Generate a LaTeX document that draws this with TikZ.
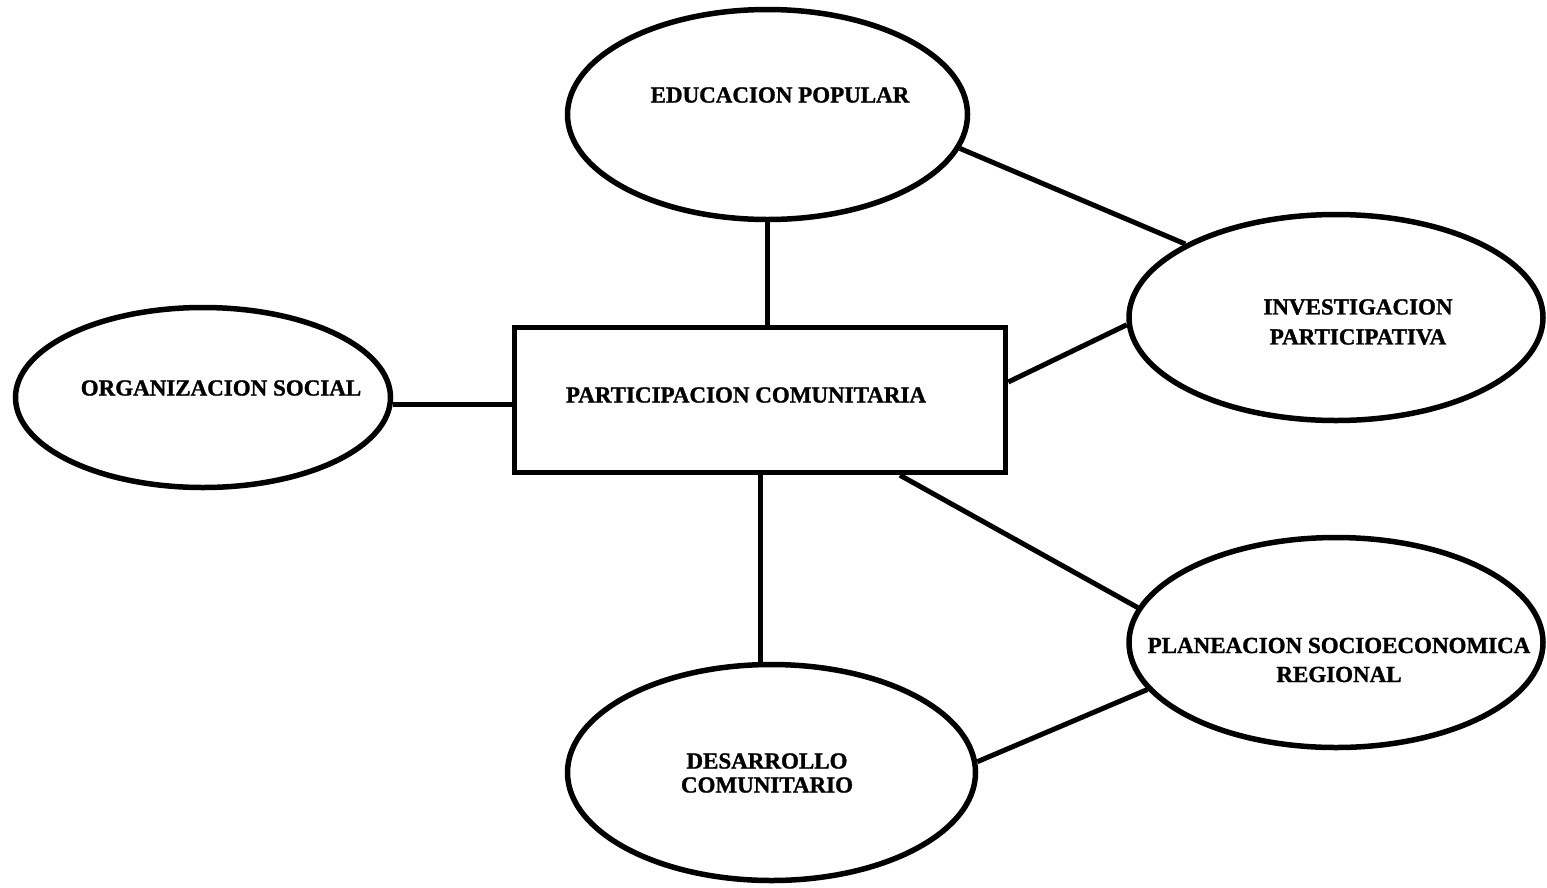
\documentclass[tikz,border=0pt]{standalone}
\usepackage{fontspec}
\setmainfont{Liberation Serif}[BoldFeatures={FakeBold=1.3}]
\usetikzlibrary{shapes.geometric}
\begin{document}
\begin{tikzpicture}[x=1pt,y=-1pt,
  bubble/.style={draw, ellipse, line width=5.5pt, inner sep=0pt},
  box/.style={draw, rectangle, line width=5.5pt, inner sep=0pt},
  lbl/.style={font=\fontsize{23}{30}\selectfont\bfseries, align=center, inner sep=0pt},
  link/.style={line width=5pt}]
\useasboundingbox (0,0) rectangle (1547,887);

% shapes
\node[box, minimum width=491pt, minimum height=145pt] (part) at (760,400) {};
\node[bubble, minimum width=400pt, minimum height=210pt] (edu) at (767.5,114.5) {};
\node[bubble, minimum width=414pt, minimum height=206pt] (inv) at (1336,317.5) {};
\node[bubble, minimum width=375pt, minimum height=180pt] (org) at (203,397.5) {};
\node[bubble, minimum width=414pt, minimum height=210pt] (plan) at (1336,642.5) {};
\node[bubble, minimum width=408pt, minimum height=216pt] (des) at (771.5,772.5) {};

% labels
\node[lbl] (part-t) at (746,395) {PARTICIPACION COMUNITARIA};
\node[lbl] (edu-t) at (780,95) {EDUCACION POPULAR};
\node[lbl] (inv-t) at (1358,322) {INVESTIGACION\\PARTICIPATIVA};
\node[lbl] (org-t) at (221,388) {ORGANIZACION SOCIAL};
\node[lbl, font=\fontsize{23}{29}\selectfont\bfseries] (plan-t) at (1339,660) {PLANEACION SOCIOECONOMICA\\REGIONAL};
\node[lbl, font=\fontsize{23}{24}\selectfont\bfseries] (des-t) at (767,773) {DESARROLLO\\COMUNITARIO};

% connectors
\draw[link] (edu.south) -- (edu.south |- part.north);
\draw[link] (edu.-10) -- (inv.154);
\draw[link] ([yshift=18pt]part.east) -- (inv.182);
\draw[link] (org.-2) -- (org.-2 -| part.west);
\draw[link] (part.south) -- (part.south |- des.north);
\draw[link] ([xshift=140pt]part.south) -- (plan.170);
\draw[link] (plan.194) -- (des.3);
\end{tikzpicture}
\end{document}
